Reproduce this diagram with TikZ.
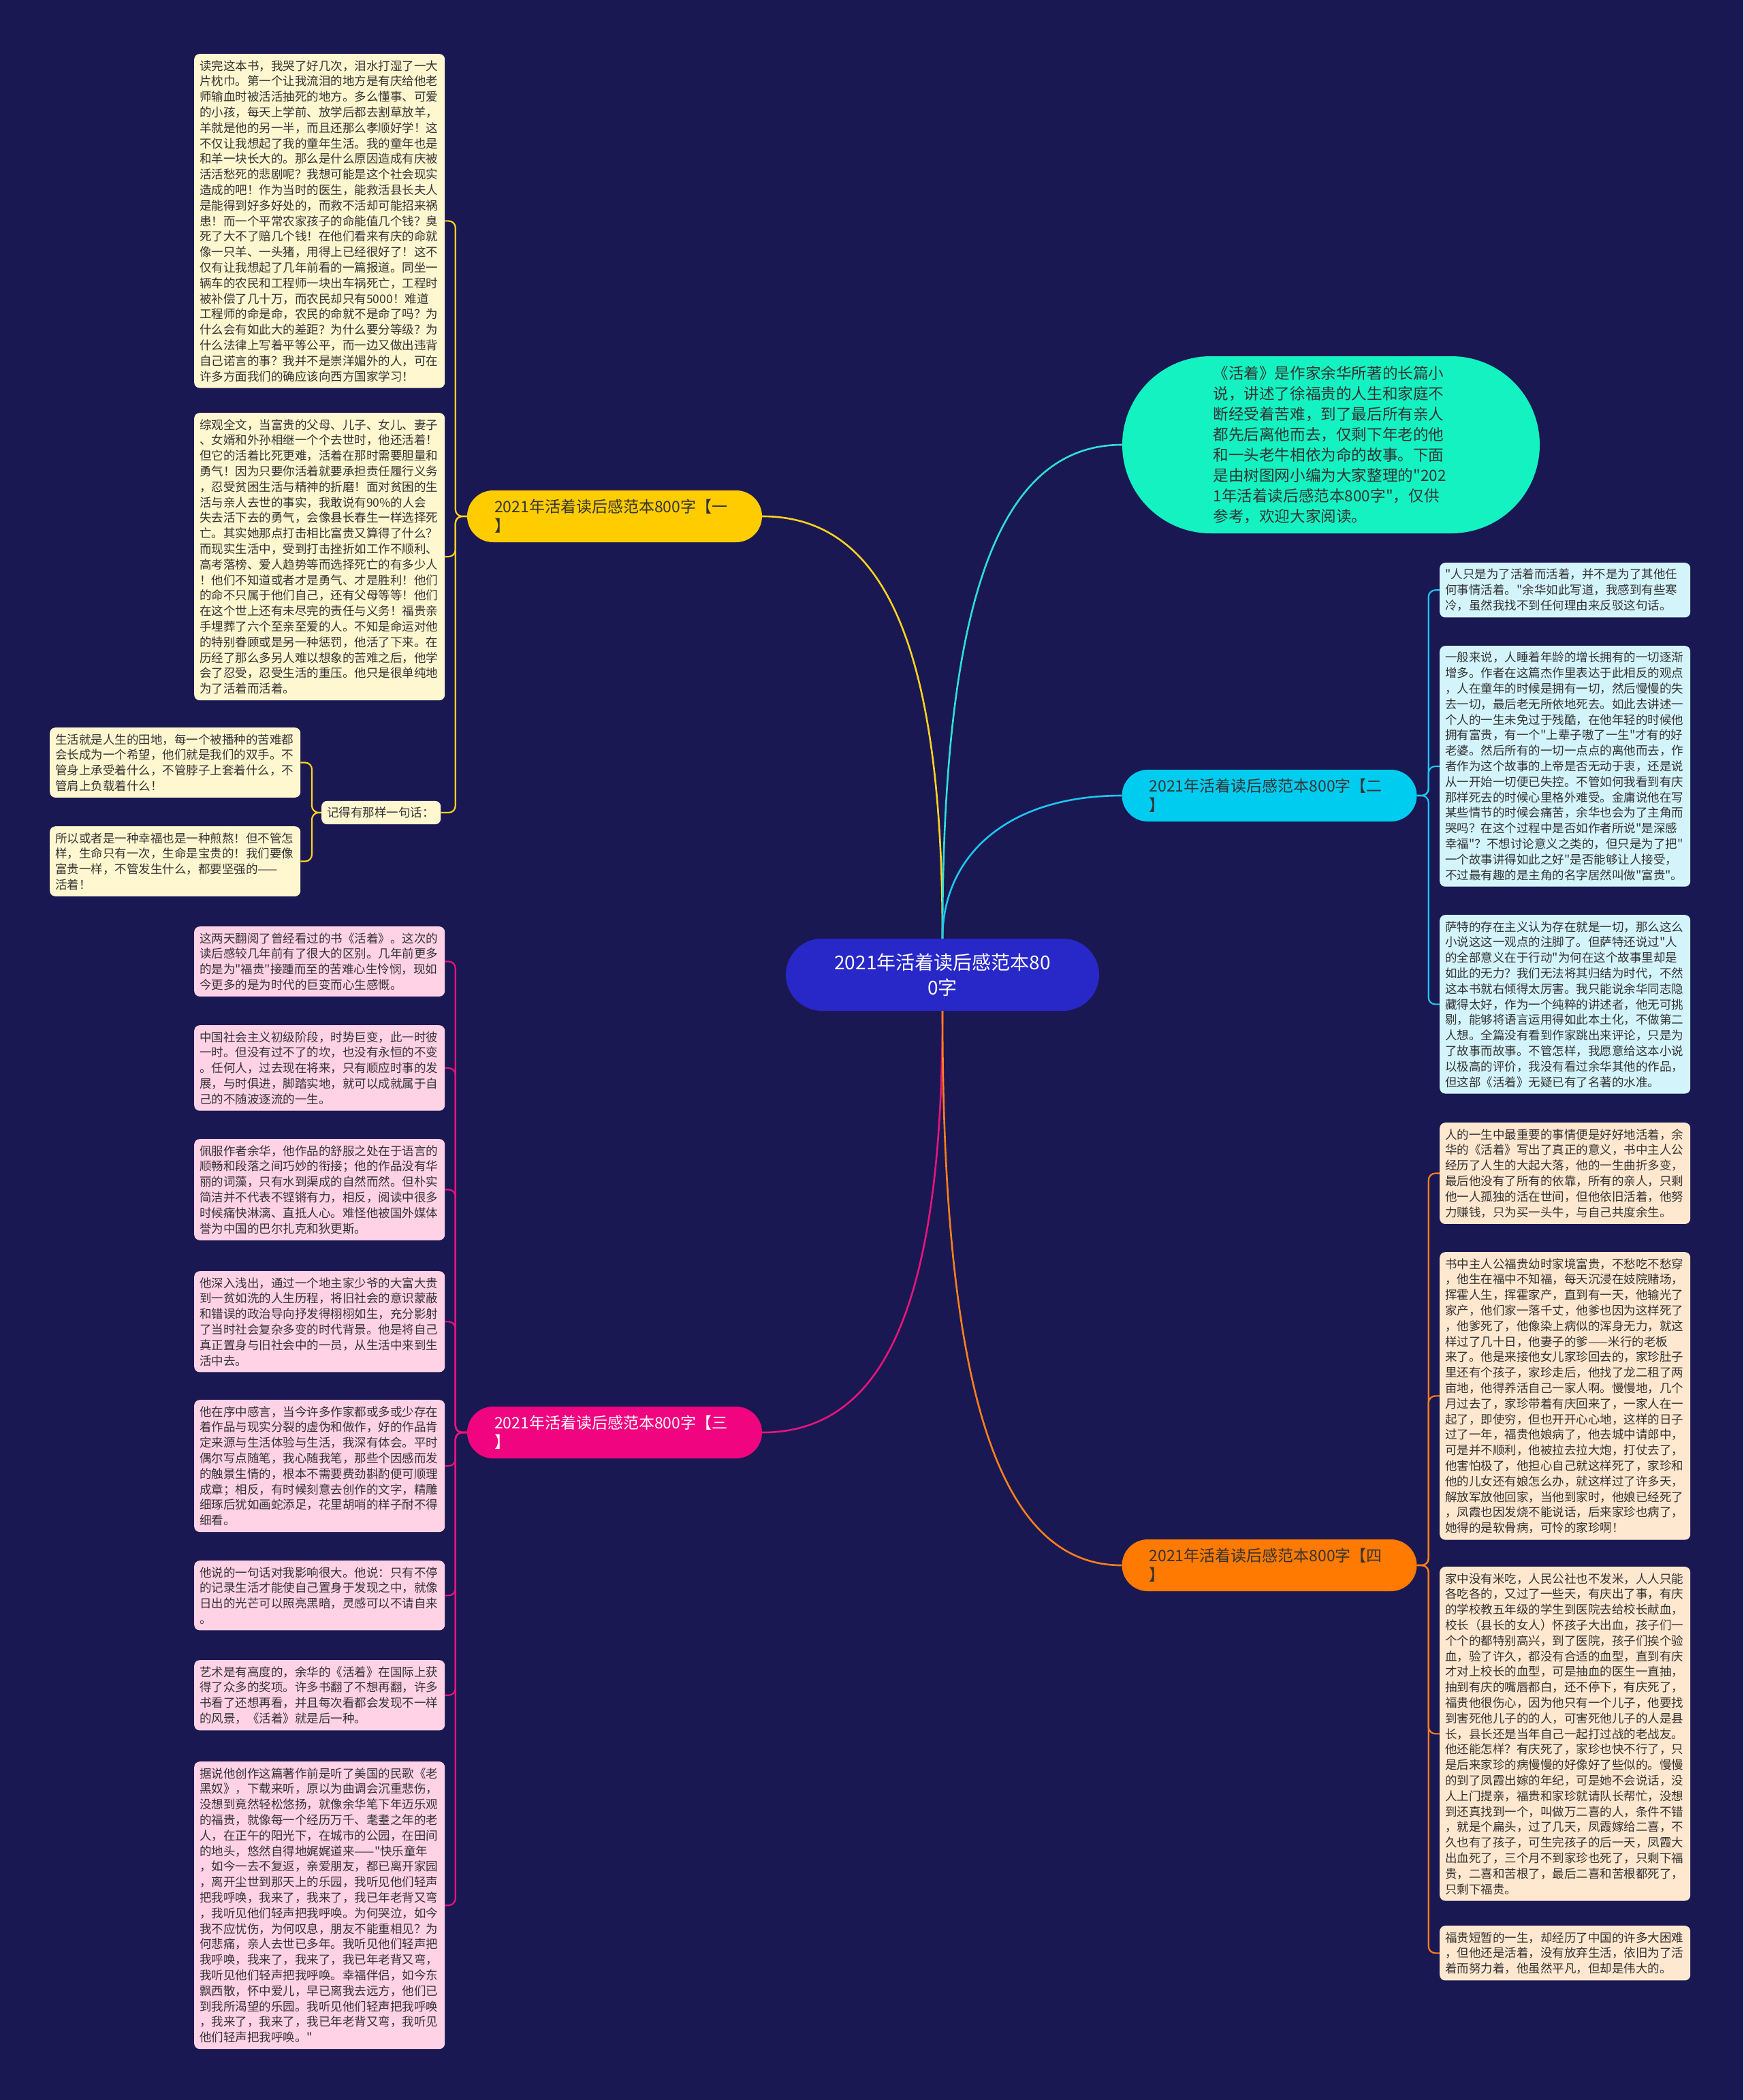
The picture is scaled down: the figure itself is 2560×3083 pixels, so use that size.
\documentclass[tikz,border=0pt]{standalone}
\usepackage{fontspec}
\setmainfont{Noto Sans CJK SC}[Ligatures=TeXOff]
\definecolor{bg}{HTML}{1A1852}
\definecolor{cenfill}{HTML}{2828C8}
\definecolor{grnfill}{HTML}{14F2C2}
\definecolor{yelfill}{HTML}{FFCC00}
\definecolor{yelleaf}{HTML}{FFF7D0}
\definecolor{yeledge}{HTML}{FFD21F}
\definecolor{cyafill}{HTML}{00CCF0}
\definecolor{cyaleaf}{HTML}{D4F4FB}
\definecolor{cyaedge}{HTML}{1EC6F0}
\definecolor{pnkfill}{HTML}{F0047F}
\definecolor{pnkleaf}{HTML}{FFD2E6}
\definecolor{pnkedge}{HTML}{E8147C}
\definecolor{orafill}{HTML}{FF7A00}
\definecolor{oraleaf}{HTML}{FFE8CF}
\definecolor{oraedge}{HTML}{FF7F1A}
\definecolor{grnedge}{HTML}{2EE0D6}
\definecolor{txtdark}{HTML}{333333}
\newcommand\leaffont{\fontsize{17.5pt}{22.8pt}\selectfont}
\newcommand\labfont{\fontsize{23pt}{28pt}\selectfont}
\newcommand\cenfont{\fontsize{28pt}{37pt}\selectfont}
\newcommand\grnfont{\fontsize{22.6pt}{30pt}\selectfont}
\begin{document}
\begin{tikzpicture}[x=1pt,y=-1pt,
  leaf/.style={rounded corners=8pt, inner xsep=8pt, inner ysep=9pt, text width=352pt, align=left, anchor=north west, font=\leaffont, text=txtdark},
  yleaf/.style={leaf, fill=yelleaf},
  pleaf/.style={leaf, fill=pnkleaf},
  cleaf/.style={leaf, fill=cyaleaf},
  oleaf/.style={leaf, fill=oraleaf},
  branchlab/.style={rounded corners=38pt, minimum width=433pt, minimum height=76pt, inner xsep=40pt, inner ysep=0pt, text width=353pt, align=left, font=\labfont},
  mainedge/.style={line width=2.6pt},
  subedge/.style={line width=2.2pt, rounded corners=10pt}
]
\fill[bg] (0,0) rectangle (2560,3083);
\useasboundingbox (0,0) rectangle (2560,3083);

% centre
\node[fill=cenfill, rounded corners=53pt, minimum width=460pt, minimum height=106pt, text=white, align=center, font=\cenfont] (c) at (1384,1431) {2021年活着读后感范本80\\0字};

% green intro
\node[fill=grnfill, rounded corners=130pt, minimum width=613pt, minimum height=260pt, text width=346pt, align=left, font=\grnfont, text=txtdark] (g) at (1954.5,653) {《活着》是作家余华所著的长篇小\\说，讲述了徐福贵的人生和家庭不\\断经受着苦难，到了最后所有亲人\\都先后离他而去，仅剩下年老的他\\和一头老牛相依为命的故事。下面\\是由树图网小编为大家整理的"202\\1年活着读后感范本800字"，仅供\\参考，欢迎大家阅读。};

% branch labels
\node[branchlab, fill=yelfill, text=txtdark] (ly) at (902.5,758) {2021年活着读后感范本800字【一\\】};
\node[branchlab, fill=pnkfill, text=white] (lp) at (902.5,2103) {2021年活着读后感范本800字【三\\】};
\node[branchlab, fill=cyafill, text=txtdark] (lc) at (1864,1168) {2021年活着读后感范本800字【二\\】};
\node[branchlab, fill=orafill, text=txtdark] (lo) at (1864,2298) {2021年活着读后感范本800字【四\\】};

% yellow leaves
\node[yleaf] (y1) at (285,79) {读完这本书，我哭了好几次，泪水打湿了一大\\片枕巾。第一个让我流泪的地方是有庆给他老\\师输血时被活活抽死的地方。多么懂事、可爱\\的小孩，每天上学前、放学后都去割草放羊，\\羊就是他的另一半，而且还那么孝顺好学！这\\不仅让我想起了我的童年生活。我的童年也是\\和羊一块长大的。那么是什么原因造成有庆被\\活活愁死的悲剧呢？我想可能是这个社会现实\\造成的吧！作为当时的医生，能救活县长夫人\\是能得到好多好处的，而救不活却可能招来祸\\患！而一个平常农家孩子的命能值几个钱？臭\\死了大不了赔几个钱！在他们看来有庆的命就\\像一只羊、一头猪，用得上已经很好了！这不\\仅有让我想起了几年前看的一篇报道。同坐一\\辆车的农民和工程师一块出车祸死亡，工程时\\被补偿了几十万，而农民却只有5000！难道\\工程师的命是命，农民的命就不是命了吗？为\\什么会有如此大的差距？为什么要分等级？为\\什么法律上写着平等公平，而一边又做出违背\\自己诺言的事？我并不是崇洋媚外的人，可在\\许多方面我们的确应该向西方国家学习！};
\node[yleaf] (y2) at (285,606) {综观全文，当富贵的父母、儿子、女儿、妻子\\、女婿和外孙相继一个个去世时，他还活着！\\但它的活着比死更难，活着在那时需要胆量和\\勇气！因为只要你活着就要承担责任履行义务\\，忍受贫困生活与精神的折磨！面对贫困的生\\活与亲人去世的事实，我敢说有90\%的人会\\失去活下去的勇气，会像县长春生一样选择死\\亡。其实她那点打击相比富贵又算得了什么？\\而现实生活中，受到打击挫折如工作不顺利、\\高考落榜、爱人趋势等而选择死亡的有多少人\\！他们不知道或者才是勇气、才是胜利！他们\\的命不只属于他们自己，还有父母等等！他们\\在这个世上还有未尽完的责任与义务！福贵亲\\手埋葬了六个至亲至爱的人。不知是命运对他\\的特别眷顾或是另一种惩罚，他活了下来。在\\历经了那么多另人难以想象的苦难之后，他学\\会了忍受，忍受生活的重压。他只是很单纯地\\为了活着而活着。};
\node[yleaf, text width=159pt, anchor=west] (yj) at (472,1193) {记得有那样一句话：};
\node[yleaf] (y3) at (73,1068) {生活就是人生的田地，每一个被播种的苦难都\\会长成为一个希望，他们就是我们的双手。不\\管身上承受着什么，不管脖子上套着什么，不\\管肩上负载着什么！};
\node[yleaf] (y4) at (73,1213) {所以或者是一种幸福也是一种煎熬！但不管怎\\样，生命只有一次，生命是宝贵的！我们要像\\富贵一样，不管发生什么，都要坚强的——\\活着！};

% pink leaves
\node[pleaf] (p1) at (285,1360) {这两天翻阅了曾经看过的书《活着》。这次的\\读后感较几年前有了很大的区别。几年前更多\\的是为"福贵"接踵而至的苦难心生怜悯，现如\\今更多的是为时代的巨变而心生感慨。};
\node[pleaf] (p2) at (285,1505) {中国社会主义初级阶段，时势巨变，此一时彼\\一时。但没有过不了的坎，也没有永恒的不变\\。任何人，过去现在将来，只有顺应时事的发\\展，与时俱进，脚踏实地，就可以成就属于自\\己的不随波逐流的一生。};
\node[pleaf] (p3) at (285,1672) {佩服作者余华，他作品的舒服之处在于语言的\\顺畅和段落之间巧妙的衔接；他的作品没有华\\丽的词藻，只有水到渠成的自然而然。但朴实\\简洁并不代表不铿锵有力，相反，阅读中很多\\时候痛快淋漓、直抵人心。难怪他被国外媒体\\誉为中国的巴尔扎克和狄更斯。};
\node[pleaf] (p4) at (285,1866) {他深入浅出，通过一个地主家少爷的大富大贵\\到一贫如洗的人生历程，将旧社会的意识蒙蔽\\和错误的政治导向抒发得栩栩如生，充分影射\\了当时社会复杂多变的时代背景。他是将自己\\真正置身与旧社会中的一员，从生活中来到生\\活中去。};
\node[pleaf] (p5) at (285,2055) {他在序中感言，当今许多作家都或多或少存在\\着作品与现实分裂的虚伪和做作，好的作品肯\\定来源与生活体验与生活，我深有体会。平时\\偶尔写点随笔，我心随我笔，那些个因感而发\\的触景生情的，根本不需要费劲斟酌便可顺理\\成章；相反，有时候刻意去创作的文字，精雕\\细琢后犹如画蛇添足，花里胡哨的样子耐不得\\细看。};
\node[pleaf] (p6) at (285,2291) {他说的一句话对我影响很大。他说：只有不停\\的记录生活才能使自己置身于发现之中，就像\\日出的光芒可以照亮黑暗，灵感可以不请自来\\。};
\node[pleaf] (p7) at (285,2437) {艺术是有高度的，余华的《活着》在国际上获\\得了众多的奖项。许多书翻了不想再翻，许多\\书看了还想再看，并且每次看都会发现不一样\\的风景，《活着》就是后一种。};
\node[pleaf] (p8) at (285,2586) {据说他创作这篇著作前是听了美国的民歌《老\\黑奴》，下载来听，原以为曲调会沉重悲伤，\\没想到竟然轻松悠扬，就像余华笔下年迈乐观\\的福贵，就像每一个经历万千、耄耋之年的老\\人，在正午的阳光下，在城市的公园，在田间\\的地头，悠然自得地娓娓道来——"快乐童年\\，如今一去不复返，亲爱朋友，都已离开家园\\，离开尘世到那天上的乐园，我听见他们轻声\\把我呼唤，我来了，我来了，我已年老背又弯\\，我听见他们轻声把我呼唤。为何哭泣，如今\\我不应忧伤，为何叹息，朋友不能重相见？为\\何悲痛，亲人去世已多年。我听见他们轻声把\\我呼唤，我来了，我来了，我已年老背又弯，\\我听见他们轻声把我呼唤。幸福伴侣，如今东\\飘西散，怀中爱儿，早已离我去远方，他们已\\到我所渴望的乐园。我听见他们轻声把我呼唤\\，我来了，我来了，我已年老背又弯，我听见\\他们轻声把我呼唤。"};

% cyan leaves
\node[cleaf] (c1) at (2114,826) {"人只是为了活着而活着，并不是为了其他任\\何事情活着。"余华如此写道，我感到有些寒\\冷，虽然我找不到任何理由来反驳这句话。};
\node[cleaf] (c2) at (2114,948) {一般来说，人睡着年龄的增长拥有的一切逐渐\\增多。作者在这篇杰作里表达于此相反的观点\\，人在童年的时候是拥有一切，然后慢慢的失\\去一切，最后老无所依地死去。如此去讲述一\\个人的一生未免过于残酷，在他年轻的时候他\\拥有富贵，有一个"上辈子嗷了一生"才有的好\\老婆。然后所有的一切一点点的离他而去，作\\者作为这个故事的上帝是否无动于衷，还是说\\从一开始一切便已失控。不管如何我看到有庆\\那样死去的时候心里格外难受。金庸说他在写\\某些情节的时候会痛苦，余华也会为了主角而\\哭吗？在这个过程中是否如作者所说"是深感\\幸福"？不想讨论意义之类的，但只是为了把"\\一个故事讲得如此之好"是否能够让人接受，\\不过最有趣的是主角的名字居然叫做"富贵"。};
\node[cleaf] (c3) at (2114,1343) {萨特的存在主义认为存在就是一切，那么这么\\小说这这一观点的注脚了。但萨特还说过"人\\的全部意义在于行动"为何在这个故事里却是\\如此的无力？我们无法将其归结为时代，不然\\这本书就右倾得太厉害。我只能说余华同志隐\\藏得太好，作为一个纯粹的讲述者，他无可挑\\剔，能够将语言运用得如此本土化，不做第二\\人想。全篇没有看到作家跳出来评论，只是为\\了故事而故事。不管怎样，我愿意给这本小说\\以极高的评价，我没有看过余华其他的作品，\\但这部《活着》无疑已有了名著的水准。};

% orange leaves
\node[oleaf] (o1) at (2114,1648) {人的一生中最重要的事情便是好好地活着，余\\华的《活着》写出了真正的意义，书中主人公\\经历了人生的大起大落，他的一生曲折多变，\\最后他没有了所有的依靠，所有的亲人，只剩\\他一人孤独的活在世间，但他依旧活着，他努\\力赚钱，只为买一头牛，与自己共度余生。};
\node[oleaf] (o2) at (2114,1838) {书中主人公福贵幼时家境富贵，不愁吃不愁穿\\，他生在福中不知福，每天沉浸在妓院赌场，\\挥霍人生，挥霍家产，直到有一天，他输光了\\家产，他们家一落千丈，他爹也因为这样死了\\，他爹死了，他像染上病似的浑身无力，就这\\样过了几十日，他妻子的爹——米行的老板\\来了。他是来接他女儿家珍回去的，家珍肚子\\里还有个孩子，家珍走后，他找了龙二租了两\\亩地，他得养活自己一家人啊。慢慢地，几个\\月过去了，家珍带着有庆回来了，一家人在一\\起了，即使穷，但也开开心心地，这样的日子\\过了一年，福贵他娘病了，他去城中请郎中，\\可是并不顺利，他被拉去拉大炮，打仗去了，\\他害怕极了，他担心自己就这样死了，家珍和\\他的儿女还有娘怎么办，就这样过了许多天，\\解放军放他回家，当他到家时，他娘已经死了\\，凤霞也因发烧不能说话，后来家珍也病了，\\她得的是软骨病，可怜的家珍啊！};
\node[oleaf] (o3) at (2114,2300) {家中没有米吃，人民公社也不发米，人人只能\\各吃各的，又过了一些天，有庆出了事，有庆\\的学校教五年级的学生到医院去给校长献血，\\校长（县长的女人）怀孩子大出血，孩子们一\\个个的都特别高兴，到了医院，孩子们挨个验\\血，验了许久，都没有合适的血型，直到有庆\\才对上校长的血型，可是抽血的医生一直抽，\\抽到有庆的嘴唇都白，还不停下，有庆死了，\\福贵他很伤心，因为他只有一个儿子，他要找\\到害死他儿子的的人，可害死他儿子的人是县\\长，县长还是当年自己一起打过战的老战友。\\他还能怎样？有庆死了，家珍也快不行了，只\\是后来家珍的病慢慢的好像好了些似的。慢慢\\的到了凤霞出嫁的年纪，可是她不会说话，没\\人上门提亲，福贵和家珍就请队长帮忙，没想\\到还真找到一个，叫做万二喜的人，条件不错\\，就是个扁头，过了几天，凤霞嫁给二喜，不\\久也有了孩子，可生完孩子的后一天，凤霞大\\出血死了，三个月不到家珍也死了，只剩下福\\贵，二喜和苦根了，最后二喜和苦根都死了，\\只剩下福贵。};
\node[oleaf] (o4) at (2114,2827) {福贵短暂的一生，却经历了中国的许多大困难\\，但他还是活着，没有放弃生活，依旧为了活\\着而努力着，他虽然平凡，但却是伟大的。};

% main connectors
\draw[mainedge, yeledge] (c.north) .. controls +(0,-428) and +(180,0) .. (ly.east);
\draw[mainedge, grnedge] (c.north) .. controls +(0,-500) and +(-180,0) .. (g.west);
\draw[mainedge, cyaedge] (c.north) .. controls +(0,-120) and +(-170,0) .. (lc.west);
\draw[mainedge, pnkedge] (c.south) .. controls +(0,430) and +(180,0) .. (lp.east);
\draw[mainedge, oraedge] (c.south) .. controls +(0,560) and +(-180,0) .. (lo.west);

% yellow sub connectors
\foreach \t in {y1,y2,yj} \draw[subedge, yeledge] (ly.west) -- ++(-17,0) |- (\t.east);
\foreach \t in {y3,y4} \draw[subedge, yeledge] (yj.west) -- ++(-14,0) |- (\t.east);
% pink
\foreach \t in {p1,p2,p3,p4,p5,p6,p7,p8} \draw[subedge, pnkedge] (lp.west) -- ++(-17,0) |- (\t.east);
% cyan
\foreach \t in {c1,c2,c3} \draw[subedge, cyaedge] (lc.east) -- ++(17,0) |- (\t.west);
% orange
\foreach \t in {o1,o2,o3,o4} \draw[subedge, oraedge] (lo.east) -- ++(17,0) |- (\t.west);
\end{tikzpicture}
\end{document}
